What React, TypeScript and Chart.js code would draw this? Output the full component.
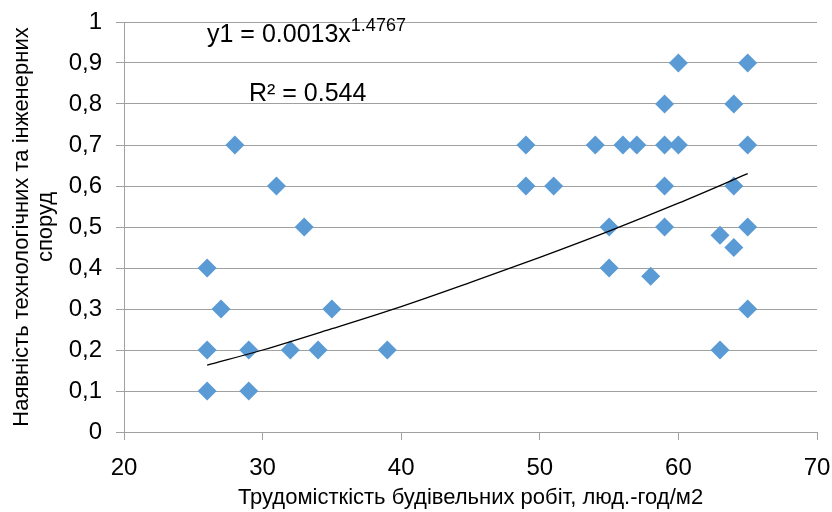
import React, { useEffect, useRef } from "react";
import { Chart, registerables } from "chart.js";

Chart.register(...registerables);

const xValues = [26, 27, 26, 29, 32, 34, 39, 26, 29, 28, 31, 33, 35, 49, 49, 51, 54, 56, 57, 59, 60, 60, 65, 59, 64, 65, 59, 64, 55, 59, 65, 63, 64, 55, 58, 65, 63];
const yValues = [0.4, 0.3, 0.2, 0.2, 0.2, 0.2, 0.2, 0.1, 0.1, 0.7, 0.6, 0.5, 0.3, 0.7, 0.6, 0.6, 0.7, 0.7, 0.7, 0.7, 0.7, 0.9, 0.9, 0.8, 0.8, 0.7, 0.6, 0.6, 0.5, 0.5, 0.5, 0.48, 0.45, 0.4, 0.38, 0.3, 0.2];

const trendX = [26, 30, 35, 40, 45, 50, 55, 60, 65];
const trendY = [0.163, 0.2, 0.252, 0.306, 0.365, 0.426, 0.49, 0.558, 0.63];

const yTickLabels = ["0", "0,1", "0,2", "0,3", "0,4", "0,5", "0,6", "0,7", "0,8", "0,9", "1"];
const xTitle = "Трудомісткість будівельних робіт, люд.-год/м2";
const yTitle = ["Наявність технологічних та інженерних", "споруд"];
const eqMain = "y1 = 0.0013x";
const eqExp = "1.4767";
const r2Text = "R² = 0.544";

const FONT = "'Liberation Sans', Arial, sans-serif";

export default function App() {
  const ref = useRef<HTMLCanvasElement | null>(null);
  useEffect(() => {
    if (!ref.current) return;
    const annot = {
      id: "annot",
      afterDraw(chart: any) {
        const ctx = chart.ctx;
        ctx.save();
        ctx.fillStyle = "#000";
        ctx.textBaseline = "alphabetic";
        ctx.font = `25px ${FONT}`;
        ctx.fillText(eqMain, 207, 42);
        const w = ctx.measureText(eqMain).width;
        ctx.font = `18px ${FONT}`;
        ctx.fillText(eqExp, 207 + w, 31);
        ctx.font = `25px ${FONT}`;
        ctx.fillText(r2Text, 249, 101);
        ctx.restore();
      },
    };
    const chart = new Chart(ref.current, {
      type: "scatter",
      data: {
        datasets: [
          {
            label: "trend",
            type: "line",
            data: trendX.map((x, i) => ({ x, y: trendY[i] })),
            borderColor: "#000",
            borderWidth: 1.3,
            pointRadius: 0,
            cubicInterpolationMode: "monotone",
            fill: false,
          } as any,
          {
            label: "data",
            data: xValues.map((x, i) => ({ x, y: yValues[i] })),
            backgroundColor: "#5B9BD5",
            borderColor: "#5B9BD5",
            pointStyle: "rectRot",
            pointRadius: 9.5,
            pointHoverRadius: 9.5,
            borderWidth: 0,
          },
        ],
      },
      options: {
        animation: false,
        responsive: false,
        events: [],
        layout: { padding: { top: 22, right: 15, left: 0, bottom: 0 } },
        plugins: { legend: { display: false }, tooltip: { enabled: false } },
        scales: {
          x: {
            type: "linear",
            min: 20,
            max: 70,
            ticks: { stepSize: 10, color: "#000", font: { size: 24, family: FONT }, padding: 14 },
            grid: { drawOnChartArea: false, drawTicks: true, tickLength: 8, color: "#A0A0A0" },
            border: { color: "#A0A0A0", width: 1 },
            title: { display: true, text: xTitle, color: "#000", font: { size: 22, family: FONT }, padding: { top: 0, bottom: 1 } },
            afterFit(scale: any) {
              scale.height = 80;
              scale.paddingLeft = 0;
              scale.paddingRight = 0;
            },
          },
          y: {
            type: "linear",
            min: 0,
            max: 1,
            ticks: {
              stepSize: 0.1,
              color: "#000",
              font: { size: 24, family: FONT },
              padding: 14,
              callback: (_v: any, i: number) => yTickLabels[i],
            },
            grid: { drawOnChartArea: true, drawTicks: true, tickLength: 8, color: "#A0A0A0" },
            border: { color: "#A0A0A0", width: 1 },
            title: { display: true, text: yTitle, color: "#000", font: { size: 22, family: FONT, lineHeight: 1.1 }, padding: { top: 10, bottom: 0 } },
            afterFit(scale: any) {
              scale.width = 124;
              scale.paddingTop = 0;
              scale.paddingBottom = 0;
            },
          },
        },
      },
      plugins: [annot],
    });
    return () => chart.destroy();
  }, []);
  return (
    <div style={{ position: "absolute", left: 0, top: 0, width: 832, height: 512, background: "#fff" }}>
      <canvas ref={ref} width={832} height={512} />
    </div>
  );
}
